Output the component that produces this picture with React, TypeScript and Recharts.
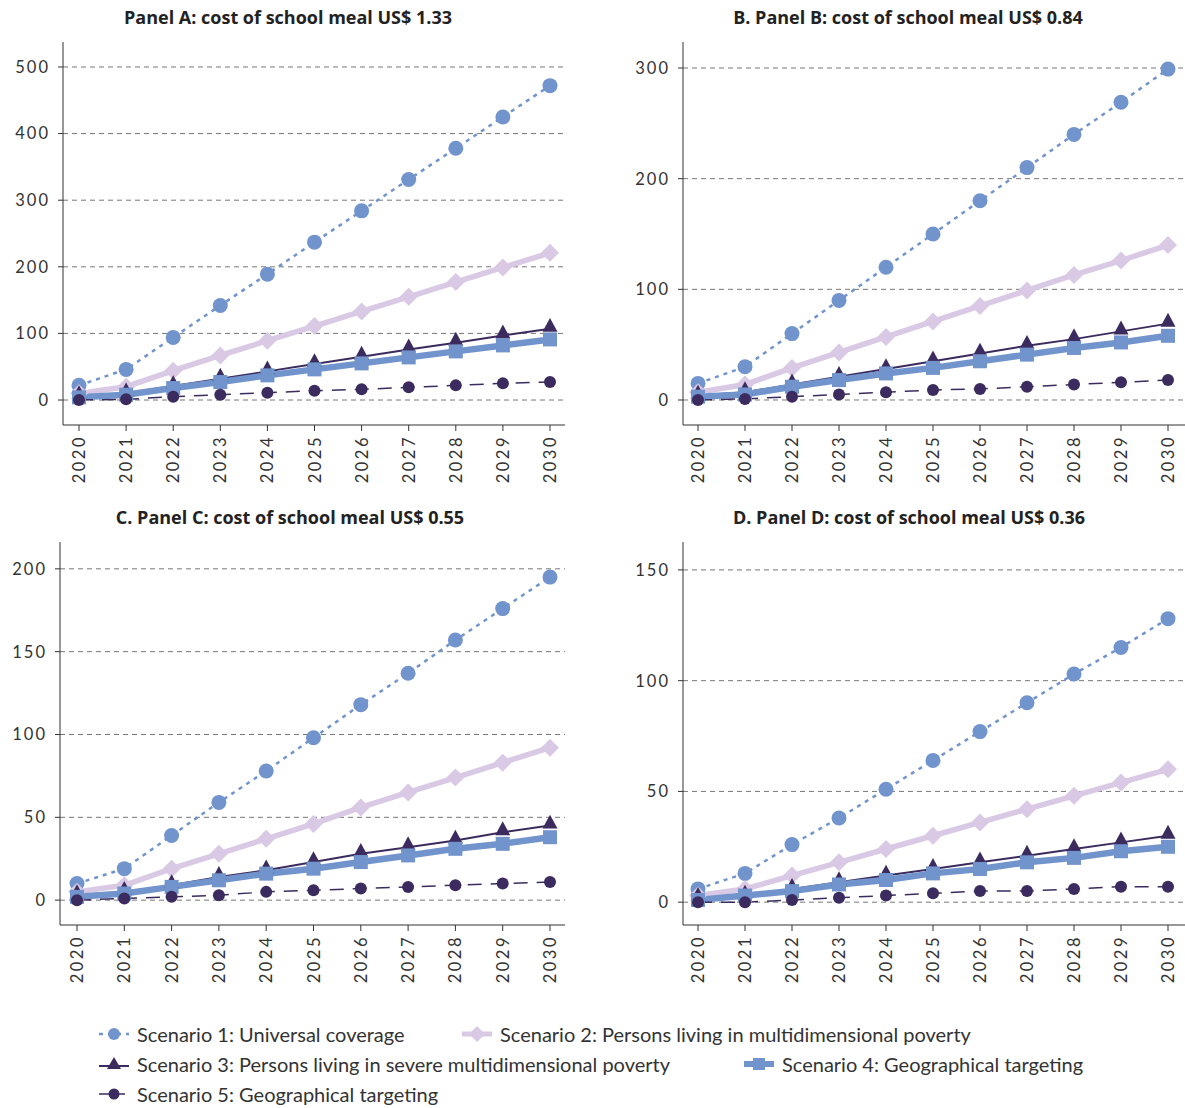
import React from 'react'
import { LineChart, Line, XAxis, YAxis, ReferenceLine } from 'recharts'

const years = ['2020', '2021', '2022', '2023', '2024', '2025', '2026', '2027', '2028', '2029', '2030']

// Panel A: US$ 1.33
const s1A = [22, 46, 94, 142, 189, 237, 284, 331, 378, 425, 472]
const s2A = [10, 20, 44, 67, 89, 111, 133, 155, 177, 199, 221]
const s3A = [6, 10, 21, 32, 43, 54, 65, 76, 86, 97, 107]
const s4A = [4, 8, 18, 27, 37, 46, 55, 64, 73, 82, 91]
const s5A = [0, 1, 5, 8, 11, 14, 16, 19, 22, 25, 27]

// Panel B: US$ 0.84
const s1B = [15, 30, 60, 90, 120, 150, 180, 210, 240, 269, 299]
const s2B = [7, 14, 29, 43, 57, 71, 85, 99, 113, 126, 140]
const s3B = [4, 7, 14, 21, 28, 35, 42, 49, 55, 62, 69]
const s4B = [3, 5, 12, 18, 24, 29, 35, 41, 47, 52, 58]
const s5B = [0, 1, 3, 5, 7, 9, 10, 12, 14, 16, 18]

// Panel C: US$ 0.55
const s1C = [10, 19, 39, 59, 78, 98, 118, 137, 157, 176, 195]
const s2C = [5, 9, 19, 28, 37, 46, 56, 65, 74, 83, 92]
const s3C = [3, 5, 9, 14, 18, 23, 28, 32, 36, 41, 45]
const s4C = [2, 4, 8, 12, 16, 19, 23, 27, 31, 34, 38]
const s5C = [0, 1, 2, 3, 5, 6, 7, 8, 9, 10, 11]

// Panel D: US$ 0.36
const s1D = [6, 13, 26, 38, 51, 64, 77, 90, 103, 115, 128]
const s2D = [3, 6, 12, 18, 24, 30, 36, 42, 48, 54, 60]
const s3D = [2, 3, 6, 9, 12, 15, 18, 21, 24, 27, 30]
const s4D = [1, 3, 5, 8, 10, 13, 15, 18, 20, 23, 25]
const s5D = [0, 0, 1, 2, 3, 4, 5, 5, 6, 7, 7]

const ticksA = [0, 100, 200, 300, 400, 500]
const ticksB = [0, 100, 200, 300]
const ticksC = [0, 50, 100, 150, 200]
const ticksD = [0, 50, 100, 150]

const legendLabels = [
  'Scenario 1: Universal coverage',
  'Scenario 2: Persons living in multidimensional poverty',
  'Scenario 3: Persons living in severe multidimensional poverty',
  'Scenario 4: Geographical targeting',
  'Scenario 5: Geographical targeting',
]

const FONT = 'Lato, "Open Sans", sans-serif'
const BLUE = '#7294CD'
const LAVENDER = '#D9C9E5'
const PURPLE = '#3B2B5E'

const circle = (r: number, fill: string) => (p: any) =>
  <circle key={`c-${p.index}`} cx={p.cx} cy={p.cy} r={r} fill={fill} />

const square = (s: number, fill: string) => (p: any) =>
  <rect key={`s-${p.index}`} x={p.cx - s / 2} y={p.cy - s / 2} width={s} height={s} fill={fill} />

const diamond = (s: number, fill: string) => (p: any) =>
  <polygon key={`d-${p.index}`} points={`${p.cx},${p.cy - s} ${p.cx + s},${p.cy} ${p.cx},${p.cy + s} ${p.cx - s},${p.cy}`} fill={fill} />

// triangle sits mostly above its point, like the original
const triangle = (s: number, fill: string) => (p: any) =>
  <polygon key={`t-${p.index}`} points={`${p.cx},${p.cy - s * 1.45} ${p.cx + s},${p.cy + s * 0.4} ${p.cx - s},${p.cy + s * 0.4}`} fill={fill} />

const YearTick = (props: any) => {
  const { x, y, payload } = props
  return (
    <text x={x} y={y} transform={`rotate(-90, ${x}, ${y})`} textAnchor="end" dominantBaseline="central"
      fontSize={16.5} letterSpacing={2.5} fill="#333" fontFamily={FONT}>
      {payload.value}
    </text>
  )
}

type PanelProps = {
  title: string
  s1: number[]; s2: number[]; s3: number[]; s4: number[]; s5: number[]
  ticks: number[]
  domain: [number, number]
  left: number
  top: number
  width: number
  axisX: number
  titleCenter: number
  padL: number
  padR: number
  rightMargin: number
}

function Panel(p: PanelProps) {
  const rows = years.map((y, i) => ({ year: y, s1: p.s1[i], s2: p.s2[i], s3: p.s3[i], s4: p.s4[i], s5: p.s5[i] }))
  return (
    <div style={{ position: 'absolute', left: p.left, top: p.top, width: p.width, height: 500 }}>
      <div style={{ position: 'absolute', left: p.titleCenter - p.left - 250, width: 500, top: 5, textAlign: 'center',
        fontFamily: '"Open Sans", Lato, sans-serif', fontWeight: 700, fontSize: 18, color: '#222' }}>{p.title}</div>
      <LineChart width={p.width} height={500} data={rows}
        margin={{ top: 42, bottom: 45, left: 0, right: p.rightMargin }}>
        {p.ticks.map((t) => (
          <ReferenceLine key={t} y={t} stroke="#777" strokeDasharray="5 4" />
        ))}
        <XAxis dataKey="year" tick={<YearTick />} interval={0} tickSize={6} tickMargin={4} height={30}
          axisLine={{ stroke: '#333' }} tickLine={{ stroke: '#333' }} padding={{ left: p.padL, right: p.padR }} />
        <YAxis type="number" domain={p.domain} ticks={p.ticks} width={p.axisX - p.left} tickSize={5} tickMargin={8}
          axisLine={{ stroke: '#333' }} tickLine={{ stroke: '#333' }} allowDataOverflow
          tick={{ fontSize: 16.5, fill: '#333', fontFamily: FONT, letterSpacing: 2 }} />
        <Line dataKey="s1" stroke={BLUE} strokeWidth={2.5} strokeDasharray="4 5" dot={circle(7.5, BLUE)} isAnimationActive={false} />
        <Line dataKey="s2" stroke={LAVENDER} strokeWidth={5.5} dot={diamond(9, LAVENDER)} isAnimationActive={false} />
        <Line dataKey="s3" stroke={PURPLE} strokeWidth={2} dot={triangle(7.5, PURPLE)} isAnimationActive={false} />
        <Line dataKey="s4" stroke={BLUE} strokeWidth={6.5} dot={square(14, BLUE)} isAnimationActive={false} />
        <Line dataKey="s5" stroke={PURPLE} strokeWidth={1.5} strokeDasharray="14 9" dot={circle(6, PURPLE)} isAnimationActive={false} />
      </LineChart>
    </div>
  )
}

function LegendIcon({ kind }: { kind: number }) {
  return (
    <svg width={34} height={20} style={{ verticalAlign: 'middle', marginRight: 6 }}>
      {kind === 0 && <>
        <line x1={2} y1={10} x2={32} y2={10} stroke={BLUE} strokeWidth={2.5} strokeDasharray="4 5" />
        <circle cx={17} cy={10} r={6} fill={BLUE} />
      </>}
      {kind === 1 && <>
        <line x1={2} y1={10} x2={32} y2={10} stroke={LAVENDER} strokeWidth={5} />
        <polygon points="17,2 25,10 17,18 9,10" fill={LAVENDER} />
      </>}
      {kind === 2 && <>
        <line x1={2} y1={12} x2={32} y2={12} stroke={PURPLE} strokeWidth={2} />
        <polygon points="17,3 24,15 10,15" fill={PURPLE} />
      </>}
      {kind === 3 && <>
        <line x1={2} y1={10} x2={32} y2={10} stroke={BLUE} strokeWidth={6} />
        <rect x={11} y={4} width={12} height={12} fill={BLUE} />
      </>}
      {kind === 4 && <>
        <line x1={2} y1={10} x2={32} y2={10} stroke={PURPLE} strokeWidth={1.5} strokeDasharray="10 6" />
        <circle cx={17} cy={10} r={5.5} fill={PURPLE} />
      </>}
    </svg>
  )
}

function LegendItem({ i, left, top }: { i: number; left: number; top: number }) {
  return (
    <div style={{ position: 'absolute', left, top, whiteSpace: 'nowrap', fontFamily: FONT, fontSize: 20, color: '#333',
      display: 'flex', alignItems: 'center' }}>
      <LegendIcon kind={i} />
      <span>{legendLabels[i]}</span>
    </div>
  )
}

export default function App() {
  return (
    <div style={{ position: 'absolute', left: 0, top: 0, width: 1185, height: 1108, background: '#fff', overflow: 'hidden' }}>
      <Panel title="Panel A: cost of school meal US$ 1.33" s1={s1A} s2={s2A} s3={s3A} s4={s4A} s5={s5A}
        ticks={ticksA} domain={[-37.5, 537.5]} left={0} top={0} width={590} axisX={63} titleCenter={288}
        padL={16} padR={15} rightMargin={25} />
      <Panel title="B. Panel B: cost of school meal US$ 0.84" s1={s1B} s2={s2B} s3={s3B} s4={s4B} s5={s5B}
        ticks={ticksB} domain={[-22.6, 323.5]} left={600} top={0} width={585} axisX={683} titleCenter={908}
        padL={15} padR={17} rightMargin={0} />
      <Panel title="C. Panel C: cost of school meal US$ 0.55" s1={s1C} s2={s2C} s3={s3C} s4={s4C} s5={s5C}
        ticks={ticksC} domain={[-15, 216.2]} left={0} top={500} width={590} axisX={60} titleCenter={290}
        padL={17} padR={15} rightMargin={25} />
      <Panel title="D. Panel D: cost of school meal US$ 0.36" s1={s1D} s2={s2D} s3={s3D} s4={s4D} s5={s5D}
        ticks={ticksD} domain={[-10.3, 162.6]} left={600} top={500} width={585} axisX={683} titleCenter={909}
        padL={15} padR={17} rightMargin={0} />
      <LegendItem i={0} left={97} top={1022} />
      <LegendItem i={1} left={460} top={1022} />
      <LegendItem i={2} left={97} top={1052} />
      <LegendItem i={3} left={742} top={1052} />
      <LegendItem i={4} left={97} top={1082} />
    </div>
  )
}
